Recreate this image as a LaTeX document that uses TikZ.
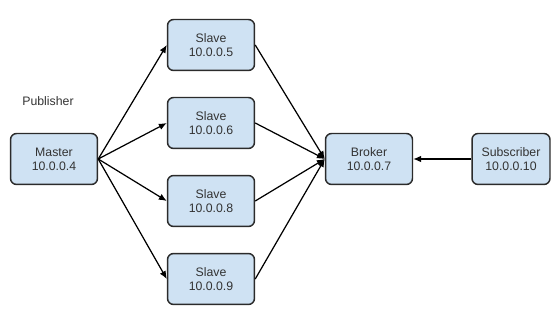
\documentclass[tikz,border=0pt]{standalone}
\usepackage{fontspec}
\setmainfont{Liberation Sans}
\usetikzlibrary{arrows.meta}

\definecolor{boxfill}{HTML}{CFE2F3}
\definecolor{boxline}{HTML}{2B2B2B}

\tikzset{
    host/.style={draw=boxline, fill=boxfill, line width=0.85pt, rounded corners=3.5pt,
        minimum width=1.74cm, minimum height=1.02cm, align=center,
        font=\fontsize{7}{8}\selectfont, text=black!80},
    link/.style={line width=0.7pt, -{Latex[length=4.5pt,width=3.8pt]}}
}

\begin{document}
\begin{tikzpicture}[x=0.02cm, y=-0.02cm]
            \useasboundingbox (0, 0) rectangle (551, 324);

            % Label
            \node[font=\fontsize{7}{8}\selectfont, text=black!80] (pub) at (48, 101) {Publisher};

            % Hosts
            \node[host] (master) at (54, 159) {Master\\10.0.0.4};
            \node[host] (slaveA) at (211, 45) {Slave\\10.0.0.5};
            \node[host] (slaveB) at (211, 123) {Slave\\10.0.0.6};
            \node[host] (slaveC) at (211, 201) {Slave\\10.0.0.8};
            \node[host] (slaveD) at (211, 279) {Slave\\10.0.0.9};
            \node[host] (broker) at (369, 159) {Broker\\10.0.0.7};
            \node[host, minimum width=1.56cm] (sub) at (511, 159) {Subscriber\\10.0.0.10};

            % Master to slaves
            \draw[link] (master.east) -- (slaveA.west);
            \draw[link] (master.east) -- (slaveB.west);
            \draw[link] (master.east) -- (slaveC.west);
            \draw[link] (master.east) -- (slaveD.west);

            % Slaves to broker
            \draw[link] (slaveA.east) -- (broker.west);
            \draw[link] (slaveB.east) -- (broker.west);
            \draw[link] (slaveC.east) -- (broker.west);
            \draw[link] (slaveD.east) -- (broker.west);

            % Subscriber
            \draw[link] (sub.west) -- (broker.east);
        \end{tikzpicture}
\end{document}
